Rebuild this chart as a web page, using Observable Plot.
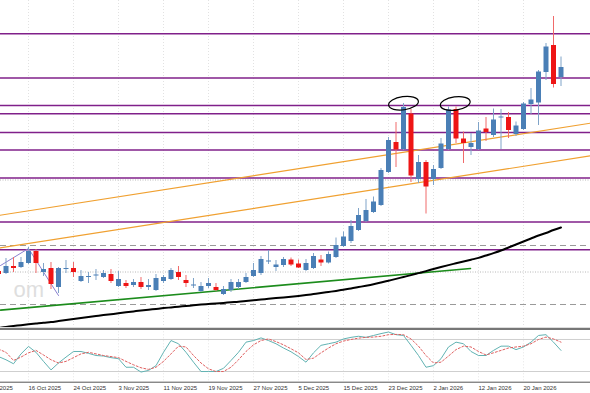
<!DOCTYPE html>
<html><head><meta charset="utf-8">
<script src="https://cdn.jsdelivr.net/npm/d3@7"></script>
<script src="https://cdn.jsdelivr.net/npm/@observablehq/plot@0.6"></script>
<style>
body{margin:0;background:#fff;}
#chart{width:590px;height:393px;overflow:hidden;}
#chart svg{display:block;}
</style>
</head><body><div id="chart"></div>
<script>
// ---- data (bar index starts at -1; price units are arbitrary, no price axis shown) ----
const firstBar = -1;
const open  = [129,127,134,133,137,149,128,132,113,131,132,119,123,124.5,123,126,114,117,115,118,113,110,119,121,128,120,114.5,109,114,113,106,110,113,118,124,127,138.5,133,135,140.5,136.5,130,132,140.5,137.5,143,154,159,170,179,188,195,228,258,251,286.5,221,238,221,232,251,291,261.5,253,251,271.5,265,282.5,283,266,271,296,297.5,328,355,323];
const high  = [132,142,143,143,153,151,137,138,133,140,138,130,128,131,130,131,129,120,121,123,121,126,125,132,134,125,122,118,122,117,114,121,121,127,137,144,150,140,143,142.5,140.5,141,147,145,148.5,162.5,168.5,180,192,201,203.5,232,263,278,297,291,245,240,235,262,293.5,293.5,268.5,267,278,283,291.5,291,288,278.5,298,312,330,357,384,343.5];
const low   = [123,126,128,132,136,127,124,111,107,127,123,118,117,120,122,117,113,112,113,111,110,109,117,120,120,113,112,108,112,109,105,108,111,117,123,125,136,129,133,134,132,129,131,134,136.5,142,153,157,169,178,187,194,227,233,250,218,217,186.5,215,231,250,257,237,245,250,259,263,251,262,264,270,286,275,320,312.5,314];
const close = [126,134,132,138,149,137,131,116,132,132,128,124,123.5,125,127,119,121,114,118,113,115,122,123,130,123,117,115,114,117,110,111,118,118,123,130,141,139,135.5,141,135.5,132.5,137,144,137.5,146,155,163.5,174,185,190,198.5,230,260,250.5,293,224.5,238,213.5,231,256.5,290.5,261.5,257,257,269.5,268,280.5,283,270,274.5,296.5,300.5,328.5,353.5,316,333];
const movingAvg = [72.5,73.6,74.5,75.3,76.2,77,77.8,78.4,79.4,80.4,81.4,82.4,83.4,84.4,85.4,86.3,87.2,88.2,89.1,90,90.8,91.6,92.4,93.1,93.8,94.5,95.2,95.9,96.5,97.1,97.6,98.2,98.7,99.5,100.3,101,101.7,102.4,103,103.7,104.5,105.4,106.4,107.4,108.5,109.6,110.8,112,113.4,114.8,116.3,118,119.8,121.6,123.5,125.4,127.4,129.4,131.5,133.5,135.4,137.2,139,140.8,142.6,145,147.4,150,153,156,159,162,165,167.5,170.5,173];
const stochK = [48,42,34.5,53,67,56,39,23,36,47,57.5,57.5,54,50,49,46,44,28,28,19,22,31,56,78,72,56,37.5,20,20,20,26,40.7,56,75,78,83,78,72,64,57,48,37.5,55,69,72,75,81,84,86,84,87.5,91,94,89,87.5,69,50,28,31,44,66,75,72,57.5,50,50,59.5,67.5,67.5,61,66,75,87.5,89,75,59.5];
const stochD = [62,56,40.7,47,55,59.5,51,42,36,39,46,53,56,53,50,48,46,39,32.6,27,24,28,39,53,67.5,66,50,36,25,20,20,28,42,57.5,70,78,81,76,70,62.6,55,42.5,45,55,64,72,77,80,82.5,84,84.5,86,89,89.5,89,81,67.5,50,36,37.5,49,61,67.5,66,57.5,51,55,59.5,64,66,67.5,72,80,84.5,81,75];

const tickBars   = [-3,3,9,15,21,27,33,39,45,51,57,63,69];
const tickLabels = ["8 Oct 2025","16 Oct 2025","24 Oct 2025","3 Nov 2025","11 Nov 2025","19 Nov 2025","27 Nov 2025","5 Dec 2025","15 Dec 2025","23 Dec 2025","2 Jan 2026","12 Jan 2026","20 Jan 2026"];

const purpleLevels = [366.7,322.5,295,286.7,268,250.5,222.5,178.5,150.7];
const dashedLevels = [155,96];
const dottedLevels = [220.5,128.5];
const orangeUpper = [[-1,185],[78,277.4]];
const orangeLower = [[-1,152.3],[78,244.7]];
const greenTrend  = [[-0.73,90.4],[61.93,132]];
const zigzag      = [[-0.73,135],[3,152],[7,105]];
const ellipseMarks = [[53,297.3],[59.9,297]];
const watermark = [[1,111,"om"]];

// ---- build tables ----
const bars = open.map((o,k)=>({i:firstBar+k,o,h:high[k],l:low[k],c:close[k],ma:movingAvg[k],sk:stochK[k],sd:stochD[k]}));
const ticks = tickBars.map((b,k)=>({i:b,label:tickLabels[k]}));
const toPts = (arr,name)=>arr.map(([i,p])=>({i,p,name}));
const trend = [...toPts(orangeUpper,"u"),...toPts(orangeLower,"l")];

const BLUE="#4a7fb6", RED="#ee1515";
const col = d => d.c >= d.o ? BLUE : RED;
const wickCol = d => d.c >= d.o ? "#7fa3c8" : "#f06a6a";

const ellipseSymbol = {draw(ctx){
  const rx=15, ry=6.6, a=-8*Math.PI/180, k=0.5523;
  const ca=Math.cos(a), sa=Math.sin(a);
  const P=(x,y)=>[x*ca-y*sa, x*sa+y*ca];
  ctx.moveTo(...P(rx,0));
  const seg=(c1,c2,e)=>ctx.bezierCurveTo(...P(...c1),...P(...c2),...P(...e));
  seg([rx,ry*k],[rx*k,ry],[0,ry]);
  seg([-rx*k,ry],[-rx,ry*k],[-rx,0]);
  seg([-rx,-ry*k],[-rx*k,-ry],[0,-ry]);
  seg([rx*k,-ry],[rx,-ry*k],[rx,0]);
  ctx.closePath();
}};

const xDomain=[-0.7333,77.9333];

const main = Plot.plot({
  width:590, height:327, margin:0,
  x:{domain:xDomain, axis:null},
  y:{domain:[73,400], axis:null},
  marks:[
    Plot.ruleX(ticks,{x:"i",stroke:"#e2e2e2",strokeDasharray:"1,2"}),
    Plot.ruleY(dottedLevels,{stroke:"#b8b8b8",strokeDasharray:"1,1.5"}),
    Plot.ruleY(dashedLevels,{stroke:"#9a9a9a",strokeDasharray:"6,4"}),
    Plot.text(watermark,{x:d=>d[0],y:d=>d[1],text:d=>d[2],textAnchor:"start",lineAnchor:"middle",fontSize:22,fill:"#dedede",fontFamily:"Liberation Sans"}),
    Plot.ruleY(purpleLevels,{stroke:"#80208a",strokeWidth:1.5}),
    Plot.line(trend,{x:"i",y:"p",z:"name",stroke:"#f0a030",strokeWidth:1.2}),
    Plot.line(toPts(greenTrend,"g"),{x:"i",y:"p",stroke:"#1c8c1c",strokeWidth:1.6}),
    Plot.line(bars,{x:"i",y:"ma",stroke:"#000",strokeWidth:2,curve:"monotone-x"}),
    Plot.line(toPts(zigzag,"z"),{x:"i",y:"p",stroke:"#8a80d0",strokeWidth:1}),
    Plot.ruleX(bars,{x:"i",y1:"l",y2:"h",stroke:wickCol,strokeWidth:1}),
    Plot.ruleX(bars,{x:"i",y1:"o",y2:d=>Math.abs(d.c-d.o)<1?d.o+(d.c>=d.o?1:-1):d.c,stroke:col,strokeWidth:5}),
    Plot.dot(ellipseMarks,{x:d=>d[0],y:d=>d[1],symbol:ellipseSymbol,stroke:"#000",fill:"none",strokeWidth:1.2})
  ]
});

const lower = Plot.plot({
  width:590, height:66, marginLeft:0, marginRight:0, marginTop:1.3, marginBottom:11.3,
  x:{domain:xDomain, axis:null},
  y:{domain:[0,100], axis:null},
  marks:[
    Plot.ruleX(ticks,{x:"i",stroke:"#e6e6e6",strokeDasharray:"1,2"}),
    Plot.ruleY([20,80],{stroke:"#cfcfcf"}),
    Plot.line(bars,{x:"i",y:"sk",stroke:"#62b3b3",strokeWidth:1}),
    Plot.line(bars,{x:"i",y:"sd",stroke:"#e06060",strokeWidth:1,strokeDasharray:"2,2"}),
    Plot.frame({anchor:"top",stroke:"#777",strokeWidth:2.2,strokeDasharray:"2,1"}),
    Plot.ruleY([0],{stroke:"#555"}),
    Plot.text(ticks,{x:"i",text:"label",frameAnchor:"bottom",dy:5.5,lineAnchor:"middle",textAnchor:"start",fontSize:6,fill:"#333",fontFamily:"Liberation Sans"})
  ]
});

const el=document.getElementById("chart");
el.append(main, lower);
</script>
</body></html>
